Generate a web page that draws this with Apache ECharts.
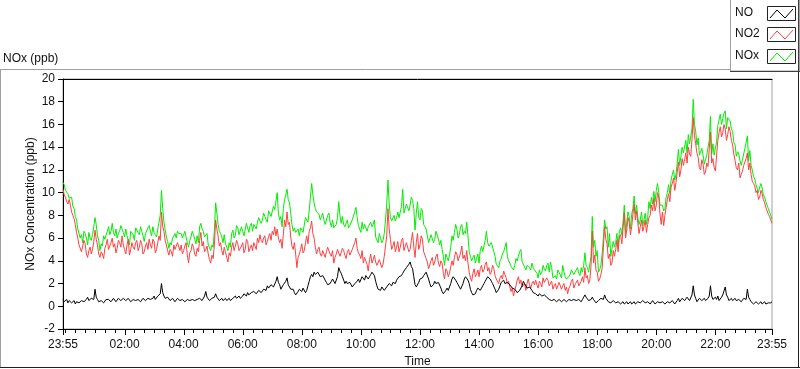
<!DOCTYPE html>
<html><head><meta charset="utf-8">
<script src="https://cdn.jsdelivr.net/npm/echarts@6.0.0/dist/echarts.min.js"></script>
<style>html,body{margin:0;padding:0;background:#fff}#c{width:800px;height:369px}</style>
</head><body><div id="c"></div>
<script>
// time grid: minutes after midnight, samples from 23:55 (-5) to 23:55 (1435)
const times = Array.from({length: 289}, (_, i) => -5 + 5 * i);
const midTimes = Array.from({length: 288}, (_, i) => -2.5 + 5 * i);

const no = [
0.6,0.5,0.3,0.6,0.4,0.2,0.5,0.3,0.6,0.4, 0.8,0.5,0.7,1.5,0.6,0.3,0.5,0.4,0.7,0.5, 0.4,0.6,0.5,0.7,0.5,0.6,0.4,0.6,0.5,0.7, 0.4,0.6,0.5,0.7,0.6,0.8,0.5,0.9,0.6,0.8, 2.0,0.9,0.6,0.7,0.5,0.6,0.5,0.7,
0.5,0.7,0.4,0.6,0.5,0.7,0.4,0.6,0.8,0.6, 1.3,0.7,0.5,0.6,1.1,0.7,0.6,0.5,0.7,0.6, 0.5,0.7,0.9,0.8,0.7,0.9,1.0,1.2,0.9,1.1, 1.4,1.2,1.5,1.3,1.6,1.8,1.7,2.0,1.8,2.6, 1.9,1.6,1.8,2.5,1.7,1.4,1.2,1.1,
1.5,1.3,1.6,1.4,2.2,2.8,3.0,2.7,2.9,2.5, 2.6,2.1,1.8,2.2,2.3,2.1,3.4,2.9,2.3,2.2, 1.9,2.0,1.8,1.9,2.4,2.2,2.5,2.7,2.4,2.8, 3.1,2.2,1.5,1.4,1.6,1.5,1.8,1.9,2.1,2.0, 2.4,2.5,2.9,3.2,3.4,3.9,3.3,1.9,
1.8,2.4,2.5,2.8,2.9,2.0,1.6,2.2,1.9,2.0, 1.3,1.2,1.6,1.5,2.4,2.6,2.1,1.7,1.5,2.4, 2.7,2.0,1.2,0.9,1.4,1.5,1.6,2.0,2.4,2.7, 2.2,1.9,1.2,1.5,2.1,2.3,1.9,2.0,1.8,1.7, 1.4,1.2,1.3,2.2,1.9,1.5,1.6,1.2,
1.1,0.9,1.2,0.8,1.0,0.7,0.6,0.4,0.6,0.5, 0.7,0.5,0.6,0.4,0.6,0.5,0.7,0.4,0.5,0.6, 1.0,0.7,0.5,0.8,0.5,0.4,0.6,0.8,1.0,0.6, 0.5,0.3,0.4,0.2,0.4,0.3,0.2,0.4,0.3,0.2, 0.4,0.3,0.5,0.3,0.4,0.2,0.4,0.3,
0.4,0.3,0.5,0.2,0.4,0.3,0.5,0.3,0.4,0.3, 0.7,0.5,0.8,0.6,0.9,0.6,1.8,0.7,0.5,0.8, 0.6,0.5,0.7,1.8,0.6,0.8,0.9,0.6,1.0,1.7, 0.8,0.6,0.5,0.7,0.4,0.6,0.5,0.8,1.5,0.6, 0.4,0.3,0.5,0.3,0.2,0.4,0.3,0.2,0.4
];
const noMid = [
0.4,0.6,0.5,0.3,0.5,0.4,0.3,0.5,0.4,0.6, 0.5,0.7,0.6,0.8,0.4,0.5,0.3,0.6,0.6,0.4, 0.7,0.4,0.7,0.5,0.7,0.5,0.7,0.4,0.6,0.5, 0.6,0.4,0.7,0.5,0.7,0.6,0.7,0.6,0.9,1.1, 1.2,0.7,0.8,0.5,0.7,0.4,0.7,0.5,
0.6,0.4,0.6,0.5,0.6,0.5,0.6,0.7,0.5,0.9, 0.8,0.5,0.7,0.8,0.8,0.5,0.7,0.6,0.5,0.7, 0.6,0.8,0.7,0.9,0.8,1.1,0.9,1.0,1.2,1.3, 1.1,1.4,1.2,1.5,1.4,1.6,1.9,1.7,2.2,2.1, 1.5,1.9,2.2,1.9,1.5,1.5,1.0,1.3,
1.4,1.6,1.2,1.8,2.6,2.6,2.8,3.0,2.6,2.7, 2.3,1.9,2.0,2.4,2.0,2.6,3.1,2.6,2.0,2.0, 2.1,1.7,2.0,2.2,2.1,2.6,2.3,2.6,2.6,3.0, 2.7,1.8,1.4,1.7,1.4,1.7,2.0,1.8,2.2,2.3, 2.6,2.7,3.1,3.4,3.7,3.5,2.6,1.7,
2.1,2.3,2.7,3.0,2.4,1.7,1.9,2.0,2.1,1.6, 1.1,1.4,1.4,2.0,2.6,2.3,1.9,1.5,2.0,2.6, 2.3,1.5,1.0,1.1,1.6,1.4,1.8,2.2,2.6,2.4, 2.0,1.5,1.3,1.8,2.2,2.0,2.1,1.9,1.6,1.5, 1.2,1.4,1.8,2.0,1.6,1.7,1.4,1.1,
1.0,1.1,0.9,1.0,0.8,0.6,0.5,0.6,0.4,0.6, 0.4,0.6,0.4,0.6,0.5,0.6,0.5,0.6,0.4,0.8, 0.8,0.5,0.6,0.6,0.3,0.5,0.7,0.6,0.7,0.4, 0.3,0.5,0.3,0.4,0.2,0.4,0.3,0.2,0.4,0.3, 0.2,0.4,0.3,0.5,0.3,0.4,0.2,0.5,
0.2,0.4,0.3,0.4,0.2,0.4,0.3,0.5,0.2,0.5, 0.4,0.7,0.5,0.8,0.5,1.0,1.0,0.4,0.7,0.5, 0.7,0.4,0.9,0.9,0.5,0.6,0.5,0.8,1.1,1.0, 0.5,0.7,0.4,0.5,0.6,0.4,0.7,0.6,0.8,0.4, 0.2,0.4,0.2,0.4,0.3,0.2,0.3,0.3
];

const no2 = [
10.3,9.6,9.0,8.9,8.0,7.2,6.0,5.3,4.9,5.5, 4.3,5.2,5.0,6.7,5.4,4.3,4.6,5.1,5.9,5.3, 6.0,5.5,5.1,5.6,6.2,5.0,5.4,4.5,5.6,5.0, 5.8,5.2,5.5,4.8,5.6,5.9,5.1,5.7,5.0,6.2, 8.3,6.6,5.4,4.5,4.8,5.4,5.1,5.5,
5.4,4.9,5.6,3.8,4.9,5.2,4.4,4.8,6.5,5.7, 5.0,4.6,3.8,4.2,7.6,6.2,5.6,4.5,4.8,3.9, 4.4,5.6,5.3,5.5,4.8,5.6,5.0,5.7,5.1,4.9, 5.3,6.0,6.3,5.6,6.2,5.7,6.4,6.6,7.0,6.8, 5.6,5.1,7.6,8.3,7.4,5.3,5.6,3.4,
4.6,5.5,4.9,6.2,6.6,7.5,6.0,4.6,5.2,4.4, 5.0,4.8,5.3,4.4,3.8,4.6,5.1,4.5,4.9,4.2, 5.0,4.4,5.3,6.0,4.7,4.2,3.8,4.4,3.1,4.6, 4.1,3.9,3.5,4.0,3.7,5.3,8.6,5.9,5.3,4.8, 5.7,5.2,6.0,5.3,5.7,5.0,6.5,4.3,
6.4,5.4,5.9,4.5,3.9,3.4,4.3,3.9,4.6,3.5, 3.8,2.4,3.1,2.9,4.0,4.3,4.6,4.0,5.3,4.5, 4.9,3.0,2.2,3.3,2.8,2.6,3.6,3.2,3.9,3.4, 3.0,3.3,2.4,2.0,2.7,3.1,2.5,2.2,1.3,0.9, 1.8,2.6,2.3,1.6,1.4,2.4,1.6,2.2,
2.3,1.6,2.0,2.5,2.0,2.3,1.7,1.5,2.0,1.6, 2.2,1.8,1.4,1.1,1.8,2.4,1.9,2.3,1.7,2.6, 3.4,2.7,2.3,6.6,4.5,3.0,2.4,3.3,7.0,5.5, 4.6,3.8,4.4,5.8,6.1,5.5,8.2,6.7,7.4,7.0, 9.0,8.4,6.4,7.6,7.0,6.5,7.8,8.9,
9.5,8.9,9.6,7.2,7.1,8.7,9.9,10.5,11.3,10.9, 12.7,12.0,12.4,13.5,14.0,13.2,16.6,14.3,13.1,12.0, 12.5,11.8,12.3,15.3,13.0,11.9,14.6,15.8,15.3,15.6, 15.1,15.4,14.2,12.8,12.0,11.3,11.9,12.5,13.5,12.6, 11.0,10.6,10.2,9.6,9.9,9.1,8.4,7.9,7.3
];
const no2Mid = [
9.8,9.2,9.4,8.3,7.7,6.5,5.4,4.8,5.8,4.6, 4.9,4.6,5.7,5.9,4.6,4.8,4.2,5.4,5.0,5.6, 5.2,4.7,5.8,5.2,5.4,4.6,5.9,5.0,5.2,5.6, 4.9,5.8,4.6,5.3,5.0,5.4,5.9,4.7,5.6,5.8, 7.0,5.8,4.9,5.0,4.4,5.0,5.6,4.9,
4.6,5.3,4.5,4.7,5.5,4.6,5.1,5.8,5.3,4.8, 5.3,4.1,4.5,5.4,6.8,5.3,4.9,5.2,4.3,4.7, 5.2,4.9,5.8,4.9,5.3,4.7,5.9,4.8,5.4,5.6, 5.0,5.6,5.8,6.0,5.4,6.1,5.8,6.3,6.2,6.0, 5.9,6.3,7.0,7.2,6.1,5.0,4.6,4.3,
5.0,4.7,5.6,5.5,6.9,6.4,5.2,5.0,4.6,4.9, 4.3,5.2,4.6,4.9,4.3,5.0,4.4,5.1,4.5,4.8, 4.5,5.0,5.6,5.1,4.5,4.9,4.3,3.7,4.1,3.8, 4.5,3.6,4.1,3.4,4.4,6.2,6.8,5.0,5.7,5.2, 4.8,5.8,4.9,5.6,4.8,5.8,5.2,5.6,
5.0,6.2,4.8,4.2,3.3,4.0,3.6,4.4,3.8,4.0, 2.9,3.3,2.6,3.5,3.6,4.8,4.0,4.7,4.2,4.0, 3.8,2.5,2.9,2.6,3.2,3.3,3.0,3.7,3.1,2.8, 3.6,2.7,2.3,2.5,2.4,2.8,2.0,1.7,1.6,1.4, 2.3,2.0,1.7,2.0,2.0,1.9,2.0,1.9,
1.9,2.2,1.7,2.1,2.5,1.8,2.2,1.8,1.5,2.1, 1.5,2.0,1.7,1.6,2.2,1.6,2.0,1.8,2.2,2.1, 2.5,2.0,3.6,3.8,3.2,2.2,2.8,5.2,5.9,4.2, 3.6,4.9,5.0,4.8,6.3,6.9,6.0,7.8,6.3,8.1, 7.6,7.3,7.0,6.6,7.6,7.2,8.0,8.4,
8.4,10.0,8.1,8.3,8.0,9.4,9.2,10.8,10.2,11.8, 11.4,13.0,12.9,12.6,13.4,14.7,15.0,13.5,12.2,12.9, 11.6,12.6,13.8,12.6,12.2,13.3,15.3,14.9,16.0,14.6, 15.8,14.6,13.4,12.2,12.6,11.6,12.4,13.0,12.0,11.6, 10.8,10.0,9.4,10.2,9.4,8.7,8.1,7.6
];

const nox = [
10.9,10.2,9.9,9.4,8.8,7.9,6.8,6.0,5.6,6.4, 5.4,6.0,6.3,7.8,6.2,4.9,5.3,5.9,6.6,6.3, 7.3,6.2,6.0,6.6,7.2,6.1,6.2,5.4,6.5,5.8, 6.9,6.3,6.6,5.7,6.5,7.1,6.2,6.5,6.1,7.4, 10.2,7.4,6.1,5.1,5.4,6.1,6.0,6.4,
6.4,5.9,6.5,5.2,6.1,6.3,5.5,5.6,7.3,6.6, 6.0,5.4,4.9,5.2,9.1,7.2,6.4,5.6,5.5,4.9, 5.2,6.7,6.2,6.9,6.3,6.6,6.1,6.9,7.1,6.6, 7.0,7.4,7.5,7.6,7.9,7.4,8.3,8.0,8.5,10.0, 7.6,7.0,9.4,10.3,9.1,7.2,6.9,6.4,
6.2,6.8,6.5,7.6,8.4,10.8,9.1,8.3,8.1,7.9, 7.6,7.6,8.2,7.0,6.9,7.2,9.2,7.3,7.2,7.1, 6.9,7.0,7.5,8.7,7.1,6.5,6.8,7.1,7.0,7.4, 7.2,6.1,5.6,6.0,5.8,7.6,11.1,7.8,7.4,7.5, 8.3,7.9,10.3,8.2,8.9,8.9,9.3,6.7,
9.2,7.6,8.4,7.0,6.2,5.5,6.4,5.9,6.7,5.4, 5.0,3.6,4.3,4.5,6.2,6.5,6.8,6.3,7.2,6.6, 7.4,4.8,4.0,4.5,4.2,3.8,5.3,4.9,6.6,5.3, 5.6,4.8,3.7,3.4,4.2,4.8,5.6,4.0,3.5,3.2, 4.2,4.4,5.0,3.7,3.2,3.6,3.2,3.4,
3.3,2.5,2.8,3.6,3.1,3.8,3.9,2.5,2.7,3.2, 2.9,3.6,2.6,2.4,2.8,3.3,2.9,3.4,2.7,3.0, 4.7,3.4,3.1,7.9,5.8,4.9,3.2,4.6,7.6,7.0, 6.4,5.1,5.2,6.4,6.6,6.3,8.9,7.4,7.9,8.1, 9.7,8.9,7.2,8.3,7.6,7.2,9.2,9.6,
10.1,10.2,10.0,8.8,8.4,9.6,10.7,11.1,12.0,11.6, 13.8,13.2,13.5,14.6,15.1,14.4,18.2,15.4,14.8,13.2, 13.3,12.6,13.2,16.7,14.3,13.3,15.9,16.9,16.5,17.2, 16.6,16.3,15.4,14.2,13.6,12.8,12.9,13.9,15.0,13.7, 12.0,11.2,10.8,10.5,10.4,9.6,8.9,8.3,7.7
];
const noxMid = [
10.7,10.3,9.5,9.6,8.6,7.6,6.7,6.3,6.6,6.0, 6.5,5.8,7.0,7.2,5.8,5.5,6.2,6.0,7.0,6.6, 6.5,6.8,6.4,7.1,6.5,6.8,5.8,6.6,6.3,6.9, 6.5,7.0,6.2,6.4,6.9,6.6,7.0,6.3,6.8,8.0, 8.6,6.7,5.7,5.6,6.0,6.4,6.6,6.3,
6.0,6.6,5.6,5.8,6.6,5.9,6.2,7.0,6.8,6.1, 6.4,5.3,5.4,6.7,8.2,6.6,6.1,6.3,5.4,5.6, 6.4,6.0,7.1,6.3,7.0,6.2,7.3,6.5,7.3,7.2, 6.8,7.8,7.3,8.2,7.6,8.4,7.9,8.8,8.6,8.2, 7.9,8.6,9.8,9.4,8.2,6.6,6.5,6.8,
6.9,6.5,7.8,7.4,9.6,9.8,8.6,8.4,7.6,8.2, 7.2,8.0,7.4,7.6,7.0,7.8,8.0,7.9,7.0,7.6, 7.1,7.6,8.3,7.8,7.0,7.4,7.2,6.6,6.9,7.0, 7.6,6.0,6.4,5.6,6.4,9.0,9.0,7.5,8.0,7.8, 7.8,8.8,8.2,9.0,8.4,9.6,8.6,8.2,
7.8,8.6,7.2,6.8,5.6,6.3,5.6,6.6,5.9,5.8, 4.4,4.6,4.0,5.2,5.8,7.2,6.0,7.0,6.3,6.4, 6.2,4.4,4.3,3.8,4.6,4.9,4.8,5.8,5.6,5.2, 5.7,4.4,3.6,4.0,4.6,5.2,4.4,3.8,3.4,3.6, 4.0,4.8,3.9,3.8,3.6,3.4,3.8,3.2,
2.9,3.2,3.0,3.3,3.6,3.0,3.4,2.6,2.4,3.0, 2.5,3.0,2.4,2.6,3.2,2.8,3.2,2.9,3.4,3.6, 3.6,3.0,4.4,5.2,4.4,3.0,3.6,6.0,6.8,5.2, 4.4,5.7,5.6,5.2,6.9,7.4,6.5,8.3,6.8,8.6, 8.1,7.8,7.6,7.1,8.2,7.8,8.6,9.0,
9.2,10.8,8.9,8.9,8.6,10.0,9.9,11.6,11.1,12.6, 12.4,14.0,13.6,13.5,14.3,15.6,16.0,14.2,13.3,13.9, 12.5,13.3,14.6,13.4,13.3,14.5,16.4,16.0,17.0,15.6, 16.6,15.6,14.4,13.2,13.4,12.4,13.0,13.9,12.8,12.4, 11.4,10.7,10.0,10.8,9.8,9.2,8.6,8.0
];

const seriesNames = ['NO', 'NO2', 'NOx'];
const seriesColors = ['#000000', '#ff4040', '#00ee00'];

const xLabelValues = [-5, 120, 240, 360, 480, 600, 720, 840, 960, 1080, 1200, 1320, 1435];
const xLabelTexts = ['23:55', '02:00', '04:00', '06:00', '08:00', '10:00', '12:00', '14:00', '16:00', '18:00', '20:00', '22:00', '23:55'];
const xMinorTicks = [];
for (let m = 0; m <= 1420; m += 20) xMinorTicks.push(m);

const FONT = '"Liberation Sans", Arial, sans-serif';
const TXT = '#111';

// interleave the 5-minute readings with the readings in between
function pairs(main, mid) {
  const out = [];
  main.forEach((v, i) => {
    out.push([times[i], v]);
    if (i < mid.length) out.push([midTimes[i], mid[i]]);
  });
  return out;
}

const labelMap = {};
xLabelValues.forEach((v, i) => { labelMap[v] = xLabelTexts[i]; });

const chart = echarts.init(document.getElementById('c'), null, {renderer: 'canvas'});

const legendRows = [14, 35, 57];
const legendGraphics = [
  {type: 'rect', shape: {x: 730.5, y: -1, width: 69, height: 72}, style: {fill: '#fff', stroke: '#a0a0a0', lineWidth: 1}, z: 10},
  {type: 'line', shape: {x1: 730, y1: 71.5, x2: 800, y2: 71.5}, style: {stroke: '#404040', lineWidth: 1}, z: 11},
  {type: 'line', shape: {x1: 798.5, y1: 0, x2: 798.5, y2: 72}, style: {stroke: '#404040', lineWidth: 1}, z: 11}
];
seriesNames.forEach((n, i) => {
  const c = legendRows[i];
  legendGraphics.push({type: 'text', left: 735, top: c - 7, style: {text: n, font: '12px ' + FONT, fill: TXT}, z: 12});
  legendGraphics.push({type: 'rect', shape: {x: 767.5, y: c - 7.5, width: 28, height: 14}, style: {fill: '#fff', stroke: '#222', lineWidth: 1}, z: 12});
  legendGraphics.push({type: 'polyline', shape: {points: [[770, c + 4], [777, c - 4], [785, c + 4], [793, c - 5]]}, style: {stroke: seriesColors[i], lineWidth: 1, fill: null}, z: 13});
});

const frame = [
  {type: 'line', shape: {x1: 0, y1: 69.5, x2: 731, y2: 69.5}, style: {stroke: '#a0a0a0', lineWidth: 1}, z: 1},
  {type: 'line', shape: {x1: 0.5, y1: 69.5, x2: 0.5, y2: 368}, style: {stroke: '#a0a0a0', lineWidth: 1}, z: 1},
  {type: 'line', shape: {x1: 0, y1: 367.5, x2: 800, y2: 367.5}, style: {stroke: '#202020', lineWidth: 1}, z: 1},
  {type: 'line', shape: {x1: 798.5, y1: 71, x2: 798.5, y2: 368}, style: {stroke: '#202020', lineWidth: 1}, z: 1}
];

const option = {
  animation: false,
  backgroundColor: '#fff',
  textStyle: {fontFamily: FONT},
  title: {text: 'NOx (ppb)', left: 3, top: 53, padding: 0, textStyle: {fontSize: 12, fontWeight: 'normal', color: TXT, fontFamily: FONT}},
  grid: {left: 63, right: 28, top: 79, bottom: 40, containLabel: false, outerBoundsMode: 'none',
         show: true, backgroundColor: '#fff', borderColor: '#a0a0a0', borderWidth: 1},
  xAxis: [
    {
      type: 'value', min: -5, max: 1435, position: 'bottom',
      axisLine: {show: true, onZero: false, lineStyle: {color: '#000', width: 1}},
      axisTick: {show: false},
      axisLabel: {customValues: xLabelValues, formatter: v => labelMap[v] || '', color: TXT, fontSize: 12, margin: 10, fontFamily: FONT},
      splitLine: {show: false},
      name: 'Time', nameLocation: 'middle', nameGap: 26,
      nameTextStyle: {color: TXT, fontSize: 12, fontFamily: FONT}
    },
    {
      type: 'value', min: -5, max: 1435, position: 'top',
      axisLine: {show: true, onZero: false, lineStyle: {color: '#000'}},
      axisTick: {show: false}, axisLabel: {show: false}, splitLine: {show: false}
    }
  ],
  yAxis: {
    type: 'value', min: -2, max: 20, interval: 2,
    axisLine: {show: true, onZero: false, lineStyle: {color: '#000'}},
    axisTick: {show: true, length: 5, lineStyle: {color: '#000'}},
    axisLabel: {color: TXT, fontSize: 12, margin: 8, fontFamily: FONT},
    splitLine: {show: false},
    name: 'NOx Concentration (ppb)', nameLocation: 'middle', nameGap: 26, nameRotate: 90, nameMoveOverlap: false,
    nameTextStyle: {color: TXT, fontSize: 12, fontFamily: FONT}
  },
  series: [
    {name: 'NOx', type: 'line', xAxisIndex: 0, data: pairs(nox, noxMid), showSymbol: false, symbol: 'none', lineStyle: {color: seriesColors[2], width: 1}, itemStyle: {color: seriesColors[2]}, z: 2},
    {name: 'NO2', type: 'line', xAxisIndex: 0, data: pairs(no2, no2Mid), showSymbol: false, symbol: 'none', lineStyle: {color: seriesColors[1], width: 1}, itemStyle: {color: seriesColors[1]}, z: 3},
    {name: 'NO', type: 'line', xAxisIndex: 0, data: pairs(no, noMid), showSymbol: false, symbol: 'none', lineStyle: {color: seriesColors[0], width: 1}, itemStyle: {color: seriesColors[0]}, z: 4}
  ],
  graphic: frame.concat(legendGraphics)
};
chart.setOption(option);

// time-axis ticks placed through the chart's own x scale
const yBottom = chart.convertToPixel({yAxisIndex: 0}, -2);
const tickEls = [];
function addTick(v, len) {
  const x = Math.round(chart.convertToPixel({xAxisIndex: 0}, v)) + 0.5;
  tickEls.push({type: 'line', shape: {x1: x, y1: yBottom, x2: x, y2: yBottom + len},
                style: {stroke: '#000', lineWidth: 1}, z: 20, silent: true});
}
xMinorTicks.forEach(v => addTick(v, 4));
xLabelValues.forEach(v => addTick(v, 6));
chart.setOption({graphic: frame.concat(legendGraphics, tickEls)});
</script></body></html>
